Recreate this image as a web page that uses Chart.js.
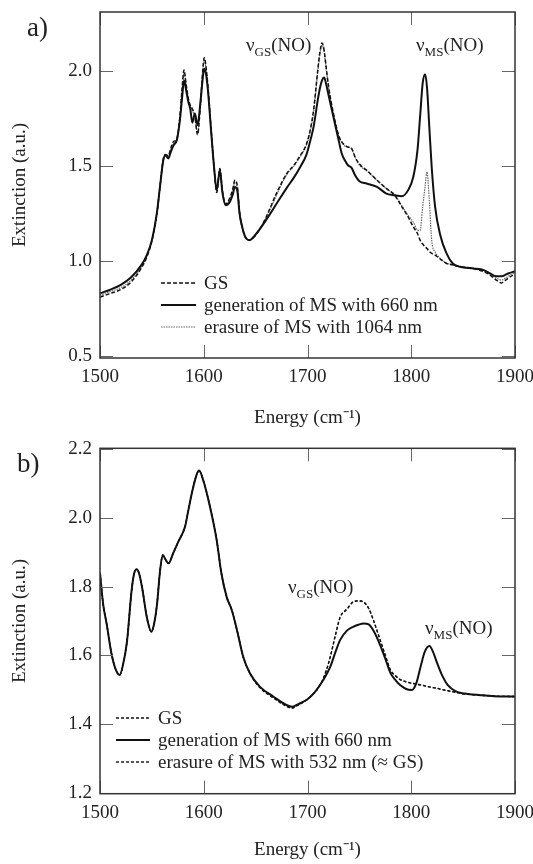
<!DOCTYPE html>
<html>
<head>
<meta charset="utf-8">
<script src="https://cdn.jsdelivr.net/npm/chart.js@4.4.1/dist/chart.umd.min.js"></script>
<style>
  html, body { margin: 0; padding: 0; background: #fff; }
  canvas { display: block; }
</style>
</head>
<body>
<canvas id="chart-a" width="533" height="432"></canvas>
<canvas id="chart-b" width="533" height="432"></canvas>
<script>
// panel a) values
const energyA = [
  1500, 1510, 1520, 1530, 1540, 1545, 1550, 1555, 1558, 1561,
  1563, 1566, 1568, 1571, 1574, 1577, 1579, 1581, 1583, 1585,
  1587, 1589, 1591.5, 1594, 1597, 1599, 1600.5, 1602, 1604, 1607,
  1610, 1612.5, 1615.5, 1618, 1621, 1625, 1628, 1630, 1632.5, 1634.5,
  1637, 1640, 1644, 1650, 1660, 1670, 1680, 1687, 1693, 1699,
  1703, 1706, 1710, 1712, 1714, 1716, 1718, 1720, 1725, 1730,
  1733, 1736, 1739, 1742.5, 1746, 1750, 1757, 1767, 1776, 1784,
  1791, 1797, 1802, 1806, 1808.5, 1811, 1813.3, 1815.2, 1817.4, 1819.7,
  1823, 1828, 1834, 1840, 1847, 1860, 1870, 1876, 1882, 1887,
  1892, 1898, 1900]
const gsA = [
  0.81, 0.83, 0.85, 0.89, 0.965, 1.02, 1.105, 1.255, 1.40, 1.535,
  1.56, 1.555, 1.59, 1.63, 1.64, 1.76, 1.90, 2.005, 1.93, 1.86,
  1.82, 1.80, 1.76, 1.665, 1.84, 2.00, 2.07, 2.03, 1.92, 1.70,
  1.49, 1.36, 1.487, 1.37, 1.30, 1.33, 1.38, 1.425, 1.39, 1.26,
  1.18, 1.127, 1.11, 1.135, 1.23, 1.355, 1.46, 1.505, 1.555, 1.615,
  1.70, 1.80, 2.01, 2.10, 2.147, 2.11, 2.02, 1.93, 1.776, 1.662,
  1.627, 1.61, 1.60, 1.592, 1.545, 1.51, 1.478, 1.425, 1.382, 1.346,
  1.285, 1.232, 1.18, 1.145, 1.11, 1.09, 1.075, 1.066, 1.05, 1.04,
  1.031, 1.01, 0.987, 0.98, 0.97, 0.961, 0.944, 0.926, 0.90, 0.885,
  0.904, 0.926, 0.93]
const genA = [
  0.83, 0.85, 0.875, 0.915, 0.98, 1.03, 1.11, 1.26, 1.40, 1.53,
  1.555, 1.54, 1.57, 1.61, 1.636, 1.74, 1.85, 1.95, 1.90, 1.84,
  1.80, 1.728, 1.776, 1.715, 1.846, 1.96, 2.012, 1.99, 1.90, 1.69,
  1.49, 1.373, 1.478, 1.36, 1.294, 1.31, 1.35, 1.39, 1.364, 1.25,
  1.18, 1.127, 1.11, 1.14, 1.215, 1.30, 1.385, 1.44, 1.495, 1.56,
  1.64, 1.71, 1.85, 1.91, 1.95, 1.965, 1.93, 1.88, 1.758, 1.636,
  1.566, 1.53, 1.504, 1.49, 1.45, 1.42, 1.408, 1.39, 1.355, 1.346,
  1.341, 1.373, 1.443, 1.583, 1.758, 1.934, 1.983, 1.913, 1.706, 1.495,
  1.285, 1.136, 1.04, 0.987, 0.97, 0.961, 0.952, 0.935, 0.92, 0.92,
  0.931, 0.943, 0.945]
const eraseA = [
  0.82, 0.84, 0.86, 0.90, 0.97, 1.025, 1.11, 1.26, 1.40, 1.53,
  1.56, 1.55, 1.58, 1.62, 1.64, 1.75, 1.88, 1.99, 1.92, 1.855,
  1.815, 1.79, 1.76, 1.67, 1.84, 1.99, 2.06, 2.02, 1.91, 1.70,
  1.49, 1.365, 1.485, 1.365, 1.30, 1.32, 1.37, 1.415, 1.38, 1.255,
  1.18, 1.127, 1.11, 1.135, 1.225, 1.345, 1.455, 1.50, 1.55, 1.61,
  1.69, 1.79, 2.00, 2.09, 2.135, 2.10, 2.01, 1.925, 1.77, 1.66,
  1.625, 1.605, 1.60, 1.59, 1.545, 1.505, 1.475, 1.425, 1.38, 1.35,
  1.29, 1.24, 1.205, 1.163, 1.16, 1.285, 1.39, 1.469, 1.32, 1.11,
  1.048, 1.014, 0.99, 0.98, 0.97, 0.961, 0.948, 0.93, 0.91, 0.90,
  0.915, 0.935, 0.94]

// panel b) values
const energyB = [
  1500, 1503, 1506.5, 1511, 1515, 1519, 1522, 1526, 1530.5, 1533,
  1535.5, 1538, 1541, 1545, 1549.5, 1552, 1555, 1558, 1560.5, 1563,
  1566, 1570.5, 1575.5, 1582, 1585, 1588.5, 1593, 1595.5, 1599.5, 1606,
  1612.5, 1617, 1622, 1627, 1632, 1638, 1644.5, 1654, 1667, 1680,
  1685, 1691, 1700, 1706, 1713, 1718, 1722, 1727, 1731.5, 1738,
  1744, 1749, 1754, 1759, 1763.5, 1770, 1775, 1780, 1785, 1789,
  1795, 1800.5, 1805, 1809, 1813, 1817.5, 1821, 1825, 1830, 1835,
  1843, 1851, 1867, 1880, 1900]
const gsB = [
  1.84, 1.75, 1.69, 1.606, 1.56, 1.543, 1.57, 1.64, 1.79, 1.84,
  1.851, 1.835, 1.79, 1.713, 1.669, 1.69, 1.75, 1.85, 1.892, 1.88,
  1.868, 1.897, 1.931, 1.975, 2.02, 2.072, 2.125, 2.138, 2.11, 2.033,
  1.935, 1.839, 1.771, 1.732, 1.674, 1.596, 1.548, 1.507, 1.477, 1.452,
  1.447, 1.456, 1.472, 1.489, 1.518, 1.555, 1.596, 1.66, 1.712, 1.735,
  1.756, 1.759, 1.756, 1.737, 1.703, 1.645, 1.60, 1.557, 1.54, 1.53,
  1.523, 1.519, 1.516, 1.514, 1.511, 1.508, 1.506, 1.504, 1.50, 1.497,
  1.492, 1.488, 1.484, 1.481, 1.48]
const genB = [
  1.84, 1.75, 1.69, 1.606, 1.56, 1.543, 1.57, 1.64, 1.79, 1.84,
  1.851, 1.835, 1.79, 1.713, 1.669, 1.69, 1.75, 1.85, 1.892, 1.88,
  1.868, 1.897, 1.931, 1.975, 2.02, 2.072, 2.125, 2.138, 2.11, 2.033,
  1.935, 1.839, 1.771, 1.732, 1.674, 1.596, 1.548, 1.509, 1.48, 1.455,
  1.45, 1.458, 1.472, 1.489, 1.518, 1.543, 1.567, 1.61, 1.645, 1.672,
  1.683, 1.689, 1.693, 1.69, 1.672, 1.63, 1.59, 1.548, 1.527, 1.514,
  1.502, 1.499, 1.52, 1.567, 1.61, 1.627, 1.61, 1.577, 1.54, 1.514,
  1.495, 1.489, 1.484, 1.481, 1.48]
const eraseB = [
  1.84, 1.75, 1.69, 1.606, 1.56, 1.543, 1.57, 1.64, 1.79, 1.84,
  1.851, 1.835, 1.79, 1.713, 1.669, 1.69, 1.75, 1.85, 1.892, 1.88,
  1.868, 1.897, 1.931, 1.975, 2.02, 2.072, 2.125, 2.138, 2.11, 2.033,
  1.935, 1.839, 1.771, 1.732, 1.674, 1.596, 1.548, 1.506, 1.476, 1.451,
  1.446, 1.455, 1.472, 1.489, 1.518, 1.555, 1.596, 1.66, 1.71, 1.734,
  1.755, 1.758, 1.755, 1.736, 1.702, 1.645, 1.60, 1.557, 1.54, 1.53,
  1.523, 1.519, 1.516, 1.514, 1.511, 1.508, 1.506, 1.504, 1.50, 1.497,
  1.492, 1.488, 1.484, 1.481, 1.48]

const xTicks = [1500, 1600, 1700, 1800, 1900]
const yTicksA = [0.5, 1.0, 1.5, 2.0]
const yTicksB = [1.2, 1.4, 1.6, 1.8, 2.0, 2.2]

const SERIF = "'Liberation Serif', 'Times New Roman', serif"
const INK = '#222'

const pts = (xs, ys) => xs.map((x, i) => ({ x, y: ys[i] }))

// frame, inward ticks on all four sides, legend, peak labels, panel letter
const decor = {
  id: 'decor',
  afterDraw(chart, args, o) {
    const { ctx, chartArea: a, scales: { x, y } } = chart
    ctx.save()

    ctx.strokeStyle = '#666'
    ctx.lineWidth = 1
    ctx.beginPath()
    x.ticks.forEach(t => {
      const px = Math.round(x.getPixelForValue(t.value)) + 0.5
      ctx.moveTo(px, a.bottom); ctx.lineTo(px, a.bottom - 13)
      ctx.moveTo(px, a.top); ctx.lineTo(px, a.top + 13)
    })
    y.ticks.forEach(t => {
      const py = Math.round(y.getPixelForValue(t.value)) + 0.5
      ctx.moveTo(a.left, py); ctx.lineTo(a.left + 13, py)
      ctx.moveTo(a.right, py); ctx.lineTo(a.right - 13, py)
    })
    ctx.stroke()

    ctx.strokeStyle = '#333'
    ctx.lineWidth = 1.5
    ctx.strokeRect(a.left, a.top, a.width, a.height)

    // legend
    ctx.font = `19px ${SERIF}`
    ctx.textBaseline = 'middle'
    ctx.fillStyle = INK
    chart.data.datasets.forEach((ds, i) => {
      const ly = o.legend.y + i * 22
      ctx.strokeStyle = ds.borderColor
      ctx.lineWidth = ds.borderWidth
      ctx.setLineDash(ds.borderDash || [])
      ctx.beginPath()
      ctx.moveTo(o.legend.x0, ly); ctx.lineTo(o.legend.x1, ly)
      ctx.stroke()
      ctx.setLineDash([])
      ctx.fillText(ds.label, o.legend.tx, ly + 1)
    })

    // ν_sub(NO) labels
    ctx.textBaseline = 'alphabetic'
    o.notes.forEach(n => {
      let cx = n.x
      ctx.font = `19px ${SERIF}`
      ctx.fillText('ν', cx, n.y); cx += ctx.measureText('ν').width
      ctx.font = `13px ${SERIF}`
      ctx.fillText(n.sub, cx, n.y + 5); cx += ctx.measureText(n.sub).width
      ctx.font = `19px ${SERIF}`
      ctx.fillText('(NO)', cx, n.y)
    })

    ctx.font = `27px ${SERIF}`
    ctx.fillText(o.panel.text, o.panel.x, o.panel.y)
    ctx.restore()
  }
}

function makeChart(id, sets, yMin, yMax, yTicks, top, axisH, deco) {
  const font = { family: SERIF, size: 19 }
  return new Chart(document.getElementById(id), {
    type: 'scatter',
    data: { datasets: sets },
    options: {
      responsive: false,
      animation: false,
      devicePixelRatio: 1,
      layout: { padding: { left: 0, right: 18, top, bottom: 0 } },
      elements: { point: { radius: 0 }, line: { cubicInterpolationMode: 'monotone' } },
      plugins: { legend: { display: false }, tooltip: { enabled: false }, decor: deco },
      scales: {
        x: {
          type: 'linear', min: 1500, max: 1900,
          afterBuildTicks: s => { s.ticks = xTicks.map(v => ({ value: v })) },
          afterFit: s => { s.height = axisH; s.paddingLeft = 0; s.paddingRight = 0 },
          grid: { display: false, drawTicks: false },
          border: { display: false },
          ticks: { padding: 8, font, color: INK, autoSkip: false, maxRotation: 0, callback: v => String(v) },
          title: { display: true, text: 'Energy (cm⁻¹)', font, color: INK, padding: { top: 0, bottom: 3 } },
        },
        y: {
          min: yMin, max: yMax,
          afterBuildTicks: s => { s.ticks = yTicks.map(v => ({ value: v })) },
          afterFit: s => { s.width = 100; s.paddingTop = 0; s.paddingBottom = 0 },
          grid: { display: false, drawTicks: false },
          border: { display: false },
          ticks: { padding: 8, font, color: INK, callback: v => v.toFixed(1) },
          title: { display: true, text: 'Extinction (a.u.)', font, color: INK, padding: { top: 9, bottom: 0 } },
        },
      },
    },
    plugins: [decor],
  })
}

makeChart('chart-a', [
  { label: 'GS', data: pts(energyA, gsA), showLine: true, borderColor: '#111', borderWidth: 1.5, borderDash: [4, 2], order: 1 },
  { label: 'generation of MS with 660 nm', data: pts(energyA, genA), showLine: true, borderColor: '#111', borderWidth: 2, order: 0 },
  { label: 'erasure of MS with 1064 nm', data: pts(energyA, eraseA), showLine: true, borderColor: '#666', borderWidth: 1.2, borderDash: [1.5, 1], order: 2 },
], 0.49, 2.31, yTicksA, 12, 74, {
  legend: { x0: 161, x1: 196, tx: 204, y: 283 },
  notes: [{ x: 246, y: 51, sub: 'GS' }, { x: 416, y: 51, sub: 'MS' }],
  panel: { text: 'a)', x: 27, y: 36 },
})

makeChart('chart-b', [
  { label: 'GS', data: pts(energyB, gsB), showLine: true, borderColor: '#111', borderWidth: 1.3, borderDash: [3, 2], order: 1 },
  { label: 'generation of MS with 660 nm', data: pts(energyB, genB), showLine: true, borderColor: '#111', borderWidth: 2, order: 0 },
  { label: 'erasure of MS with 532 nm (≈ GS)', data: pts(energyB, eraseB), showLine: true, borderColor: '#222', borderWidth: 1.3, borderDash: [3, 2], order: 2 },
], 1.197, 2.203, yTicksB, 16.3, 70.3, {
  legend: { x0: 116, x1: 150, tx: 158, y: 286 },
  notes: [{ x: 288, y: 161, sub: 'GS' }, { x: 425, y: 202, sub: 'MS' }],
  panel: { text: 'b)', x: 17, y: 40 },
})
</script>
</body>
</html>
